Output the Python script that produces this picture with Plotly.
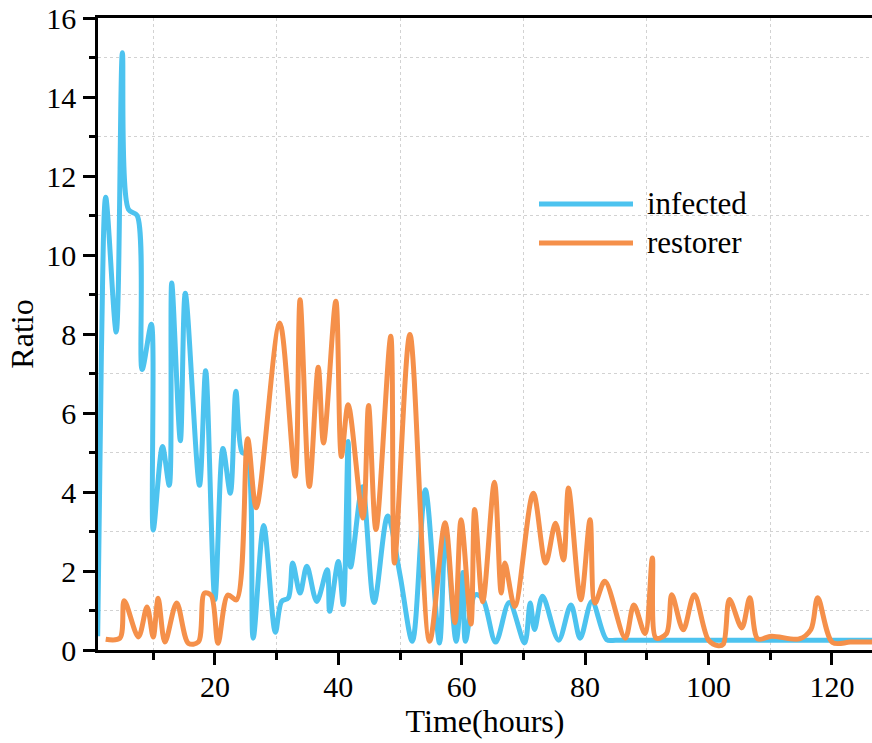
import plotly.graph_objects as go

# infected series (time in hours, ratio)
infected_t = [1.0, 1.6, 2.3, 4.0, 5.0, 6.0, 7.4, 8.2, 9.7, 10.0, 11.5, 12.6, 13.0, 14.4, 15.2,
              17.5, 18.5, 20.0, 21.3, 22.5, 23.4, 24.4, 25.2, 26.2, 27.9, 29.8, 30.8, 31.9,
              32.6, 33.8, 34.9, 36.5, 38.2, 38.6, 40.0, 40.8, 41.6, 42.0, 43.9, 45.8, 48.0,
              50.0, 52.0, 54.1, 56.4, 57.4, 59.1, 60.2, 60.6, 62.2, 63.4, 65.5, 67.7, 70.2,
              71.1, 71.8, 73.1, 75.7, 77.7, 79.2, 81.1, 83.5, 85.0, 90.0, 100.0, 110.0, 120.0, 126.5]
infected_v = [0.35, 7.5, 11.46, 8.05, 15.12, 11.15, 11.0, 7.1, 8.25, 3.04, 5.15, 4.17, 9.29, 5.3, 9.03,
              4.17, 7.07, 1.28, 5.1, 3.97, 6.55, 5.0, 4.95, 0.3, 3.15, 0.45, 1.23, 1.32,
              2.2, 1.44, 2.12, 1.23, 2.03, 0.98, 2.24, 1.15, 5.28, 2.1, 4.13, 1.2, 3.39,
              1.9, 0.22, 4.06, 0.18, 3.0, 0.22, 1.96, 0.22, 1.4, 1.3, 0.2, 1.2, 0.18,
              1.19, 0.52, 1.36, 0.25, 1.14, 0.3, 1.23, 0.26, 0.25, 0.25, 0.25, 0.25, 0.25, 0.25]

# restorer series
restorer_t = [2.3, 4.6, 5.3, 7.6, 9.0, 10.0, 10.8, 11.9, 13.8, 15.7, 17.3, 18.3, 19.4, 20.5,
              22.1, 23.5, 25.3, 26.7, 30.5, 33.0, 33.8, 35.3, 36.75, 37.6, 39.6, 40.5, 41.6,
              44.0, 44.9, 46.1, 48.5, 49.1, 51.6, 54.8, 57.3, 58.9, 59.9, 61.5, 62.1, 63.4,
              65.3, 66.4, 67.0, 68.6, 71.6, 73.6, 75.2, 76.5, 77.3, 79.3, 80.8, 81.6, 83.2,
              86.5, 87.9, 89.7, 90.9, 91.5, 93.2, 94.05, 95.9, 97.7, 100.0, 101.6, 102.4,
              103.4, 105.4, 106.7, 108.0, 110.2, 114.7, 116.6, 117.7, 120.1, 123.0, 126.5]
restorer_v = [0.27, 0.3, 1.25, 0.33, 1.09, 0.33, 1.31, 0.2, 1.19, 0.17, 0.2, 1.44, 1.38, 0.17,
              1.39, 1.27, 5.35, 3.6, 8.28, 4.4, 8.87, 4.14, 7.16, 5.24, 8.83, 4.9, 6.21,
              3.34, 6.19, 3.05, 7.94, 2.2, 7.99, 0.22, 3.22, 0.69, 3.3, 0.66, 3.56, 1.22,
              4.25, 1.44, 2.2, 1.1, 3.97, 2.2, 3.21, 2.28, 4.1, 1.27, 3.3, 1.19, 1.74,
              0.3, 1.14, 0.42, 2.33, 0.3, 0.42, 1.4, 0.51, 1.4, 0.25, 0.11, 0.15,
              1.28, 0.56, 1.32, 0.28, 0.35, 0.28, 0.52, 1.32, 0.19, 0.2, 0.2]

series_names = ["infected", "restorer"]
series_colors = ["#4dc3ef", "#f5904a"]

FONT = "Liberation Serif"

fig = go.Figure()
fig.add_trace(go.Scatter(x=infected_t, y=infected_v, mode="lines", name=series_names[0],
                         line=dict(color=series_colors[0], width=5, shape="spline", smoothing=0.9)))
fig.add_trace(go.Scatter(x=restorer_t, y=restorer_v, mode="lines", name=series_names[1],
                         line=dict(color=series_colors[1], width=5, shape="spline", smoothing=0.9)))

L, T, W, H = 98, 18, 774, 632

def px2paper(px, py):
    return (px - L) / W, (T + H - py) / H

# manual legend
for i, (name, col) in enumerate(zip(series_names, series_colors)):
    py = 204 + 39 * i
    x0, y0 = px2paper(539, py)
    x1, _ = px2paper(633, py)
    fig.add_shape(type="line", xref="paper", yref="paper", x0=x0, x1=x1, y0=y0, y1=y0,
                  line=dict(color=col, width=5))
    tx, ty = px2paper(645, py - 1)
    fig.add_annotation(xref="paper", yref="paper", x=tx, y=ty, text=name, showarrow=False,
                       xanchor="left", yanchor="middle", font=dict(family=FONT, size=31, color="black"))

fig.update_layout(
    width=872, height=743,
    margin=dict(l=L, r=0, t=T, b=743 - T - H),
    plot_bgcolor="white", paper_bgcolor="white",
    showlegend=False,
    font=dict(family=FONT, size=30, color="black"),
)

GRID = dict(showgrid=True, gridcolor="#d2d2d2", gridwidth=1, griddash="3px,3px")

fig.update_xaxes(
    range=[1.05, 126.5], tickmode="linear", tick0=0, dtick=20,
    ticks="outside", ticklen=12, tickwidth=2.5, tickcolor="black",
    showline=True, linewidth=2.5, linecolor="black", mirror=True,
    showgrid=False, zeroline=False,
    tickfont=dict(family=FONT, size=30),
    ticklabelstandoff=-4,
    minor=dict(tick0=0, dtick=10, ticks="outside", ticklen=7, tickwidth=2.5, tickcolor="black", **GRID),
    title=dict(text="Time(hours)", font=dict(family=FONT, size=32), standoff=8),
)
fig.update_yaxes(
    range=[0, 16], tickmode="linear", tick0=0, dtick=2,
    ticks="outside", ticklen=12, tickwidth=2.5, tickcolor="black",
    showline=True, linewidth=2.5, linecolor="black", mirror=False,
    showgrid=False, zeroline=False,
    tickfont=dict(family=FONT, size=30),
    ticklabelstandoff=1,
    minor=dict(tick0=0, dtick=1, ticks="outside", ticklen=6, tickwidth=2.5, tickcolor="black", **GRID),
    title=dict(text="Ratio", font=dict(family=FONT, size=32), standoff=4),
)

fig.write_html("out.html")
